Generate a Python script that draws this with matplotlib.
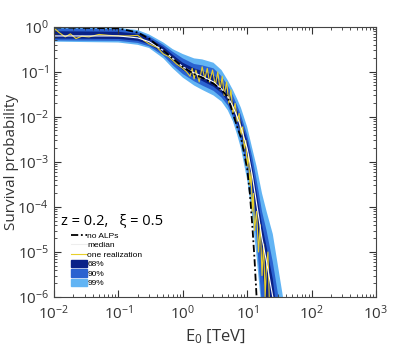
import matplotlib
matplotlib.use("Agg")
import matplotlib.pyplot as plt
import numpy as np
from matplotlib.patches import Patch
from matplotlib.lines import Line2D

plt.rcParams['font.family'] = ['Open Sans', 'DejaVu Sans']
plt.rcParams['mathtext.default'] = 'regular'

# energies [TeV] shared by the band edges and the smooth curves
E = [0.01, 0.1, 0.2, 0.3, 0.5, 0.7, 1, 1.5, 2, 3, 4, 5, 6, 7, 8, 10,
     12, 14, 17, 20, 25, 30, 36, 40]

# 99% band
up99 = [0.98, 0.95, 0.85, 0.68, 0.45, 0.32, 0.25, 0.2, 0.19, 0.16, 0.11, 0.065,
        0.04, 0.025, 0.016, 6e-3, 2e-3, 8e-4, 2e-4, 8e-5, 2.5e-5, 5e-6, 1e-6, 4e-7]
lo99 = [0.47, 0.45, 0.4, 0.34, 0.2, 0.12, 0.075, 0.05, 0.04, 0.03, 0.022, 0.014,
        8e-3, 4e-3, 2e-3, 4e-4, 6e-5, 8e-6, 4e-7, 1e-8, 1e-8, 1e-8, 1e-8, 1e-8]
# 90% band
up90 = [0.92, 0.9, 0.78, 0.62, 0.4, 0.28, 0.2, 0.15, 0.14, 0.12, 0.08, 0.05,
        0.03, 0.018, 0.011, 4e-3, 1.3e-3, 4e-4, 8e-5, 3e-5, 6e-6, 1.2e-6, 2e-7, 1e-8]
lo90 = [0.5, 0.49, 0.44, 0.37, 0.23, 0.14, 0.09, 0.062, 0.05, 0.038, 0.027, 0.018,
        0.01, 5.5e-3, 3e-3, 7e-4, 1.2e-4, 2e-5, 6e-7, 1e-8, 1e-8, 1e-8, 1e-8, 1e-8]
# 68% band
up68 = [0.8, 0.78, 0.7, 0.56, 0.36, 0.24, 0.16, 0.12, 0.105, 0.085, 0.06, 0.038,
        0.023, 0.014, 8.5e-3, 3e-3, 8e-4, 2.2e-4, 4e-5, 1.3e-5, 2.5e-6, 3e-7, 1e-8, 1e-8]
lo68 = [0.55, 0.54, 0.49, 0.41, 0.26, 0.17, 0.11, 0.075, 0.063, 0.047, 0.034, 0.022,
        0.013, 7.5e-3, 4.3e-3, 1.2e-3, 2.5e-4, 5e-5, 5e-6, 5e-7, 1e-8, 1e-8, 1e-8, 1e-8]

median = [0.63, 0.63, 0.57, 0.47, 0.3, 0.2, 0.13, 0.095, 0.08, 0.06, 0.042, 0.028,
          0.017, 0.01, 6e-3, 2e-3, 5e-4, 1.2e-4, 2e-5, 6e-6, 1e-6, 1e-7, 1e-8, 1e-8]

E_noalp = [0.01, 0.1, 0.2, 0.3, 0.5, 0.7, 1, 1.5, 2, 3, 4, 5, 6, 7, 8, 10,
           11, 12, 13, 14, 14.5]
noalp = [0.97, 0.93, 0.75, 0.55, 0.3, 0.2, 0.13, 0.09, 0.075, 0.055, 0.04, 0.028,
         0.012, 6e-3, 3.5e-3, 7e-4, 2e-4, 4e-5, 7e-6, 1e-6, 3e-7]

# one realization of the ALP-photon mixing
E_real = [0.01, 0.012, 0.015, 0.018, 0.022, 0.027, 0.035, 0.05, 0.07, 0.1, 0.15,
          0.2, 0.25, 0.3, 0.4, 0.5, 0.6, 0.7, 0.8, 1.0, 1.15, 1.3, 1.4, 1.5, 1.6,
          1.8, 2.0, 2.2, 2.4, 2.6, 2.9, 3.2, 3.5, 3.8, 4.1, 4.4, 4.8, 5.2, 5.6,
          6.0, 6.5, 7.0, 7.5, 8.0, 8.5, 9.0, 9.5, 10, 10.5, 11, 11.5, 12, 12.5,
          13, 14, 15, 16, 17, 18, 19, 20, 21, 22, 23]
real = [0.95, 0.75, 0.6, 0.7, 0.55, 0.62, 0.6, 0.68, 0.65, 0.63, 0.63,
        0.65, 0.5, 0.42, 0.35, 0.25, 0.22, 0.18, 0.15, 0.12, 0.1, 0.08, 0.12, 0.07, 0.11,
        0.06, 0.13, 0.07, 0.12, 0.06, 0.11, 0.05, 0.1, 0.04, 0.08, 0.03, 0.06, 0.02, 0.04,
        0.012, 0.02, 8e-3, 0.012, 4e-3, 6e-3, 2e-3, 3e-3, 8e-4, 1.5e-3, 3e-4, 6e-4, 8e-5, 2e-4,
        3e-5, 8e-5, 1e-5, 4e-5, 3e-6, 1.5e-5, 1e-6, 5e-6, 1e-5, 1e-6, 1e-7]

c68, c90, c99 = '#0a2288', '#2a62d0', '#62b4f4'

fig = plt.figure(figsize=(4.15, 3.54), dpi=100)
ax = fig.add_axes([0.130, 0.161, 0.776, 0.763])

for up, lo, col in [(up99, lo99, c99), (up90, lo90, c90), (up68, lo68, c68)]:
    ax.fill_between(E, lo, up, color=col, lw=0)

ax.plot(E_real, real, color='#e8cf2a', lw=0.8)
ax.plot(E, median, color='white', lw=0.8)
ax.plot(E_noalp, noalp, color='black', lw=1.3, ls=(0, (4, 1.5, 1, 1.5)))

ax.set_xscale('log')
ax.set_yscale('log')
ax.set_xlim(1e-2, 1e3)
ax.set_ylim(1e-6, 1)
ax.tick_params(which='both', direction='in', top=True, right=True, labelsize=11,
               colors='#333333')
ax.tick_params(axis='x', pad=5)
ax.tick_params(which='major', length=5)
ax.tick_params(which='minor', length=2.5)
for s in ax.spines.values():
    s.set_color('#444444')
ax.set_xlabel('E$_{0}$ [TeV]', fontsize=12, color='#333333')
ax.set_ylabel('Survival probability', fontsize=11, color='#333333')
ax.xaxis.set_label_coords(0.5, -0.115)
ax.yaxis.set_label_coords(-0.109, 0.5)

ax.text(0.022, 0.278, 'z = 0.2,   ξ = 0.5', transform=ax.transAxes, fontsize=10.5,
        va='center')

handles = [Line2D([], [], color='black', lw=1.3, ls=(0, (4, 1.5, 1, 1.5))),
           Line2D([], [], color='#eeeeee', lw=0.8),
           Line2D([], [], color='#e8cf2a', lw=0.8),
           Patch(color=c68), Patch(color=c90), Patch(color=c99)]
labels = ['no ALPs', 'median', 'one realization', '68%', '90%', '99%']
ax.legend(handles, labels, loc='upper left', bbox_to_anchor=(0.052, 0.243),
          frameon=False, prop={'family': 'Liberation Sans', 'size': 6},
          handlelength=1.9, handleheight=0.96,
          handletextpad=0.1, labelspacing=0.12, borderpad=0, borderaxespad=0)

fig.savefig('out.png', dpi=100)
